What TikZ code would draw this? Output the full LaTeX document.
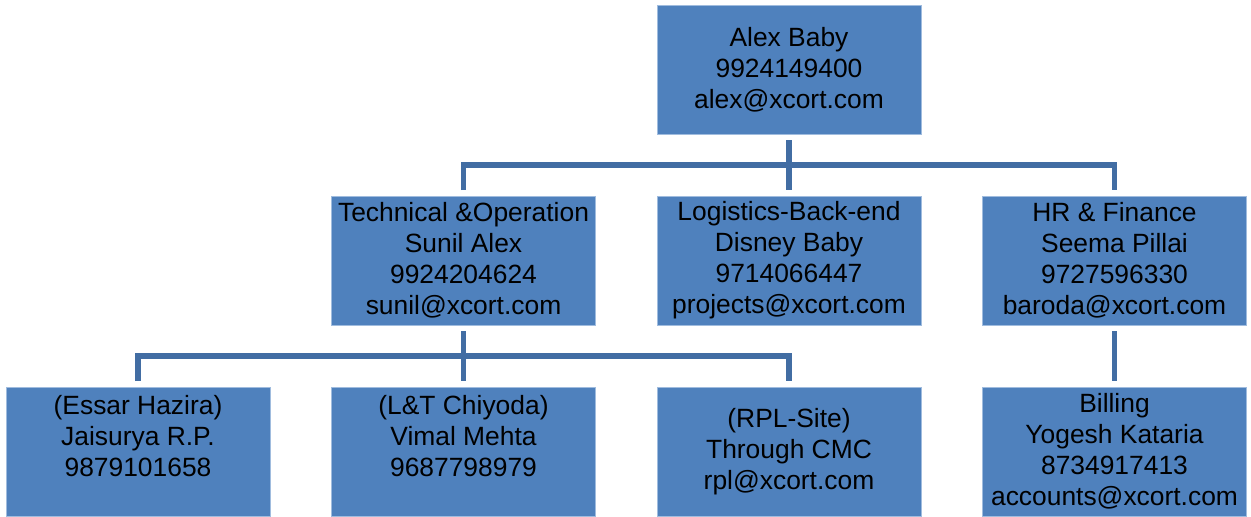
\documentclass[tikz,border=0pt]{standalone}
\usepackage{fontspec}
\setmainfont{Liberation Sans}
\usepackage{tikz}
\usetikzlibrary{calc,positioning}
\definecolor{unitfill}{RGB}{79,129,189}
\definecolor{unitedge}{RGB}{160,188,222}
\definecolor{linkcol}{RGB}{66,109,163}

\begin{document}
\begin{tikzpicture}[
    unit/.style={               % Boxes denoting one post of the chart.
      rectangle,
      draw=unitedge,
      line width=0.5pt,
      fill=unitfill,
      align=center,
      minimum width=132pt,
      minimum height=64.5pt,
      inner sep=1pt,
      outer sep=0pt,
      font=\fontsize{13.2}{15.5}\selectfont
    },
    link/.style={               % Connecting lines between posts.
      draw=linkcol,
      line width=2.6pt
    }]

    \useasboundingbox (0pt,0pt) rectangle (625.5pt,-258pt);

    % Head of the chart.
    \node[unit] (alex) at (394.5pt,-34.75pt)
      {Alex Baby\\9924149400\\alex@xcort.com};

    % Second level.
    \node[unit] (logistics) [below=31pt of alex]
      {Logistics-Back-end\\Disney Baby\\9714066447\\projects@xcort.com};
    \node[unit] (tech) [left=30.75pt of logistics]
      {Technical \&Operation\\Sunil Alex\\9924204624\\sunil@xcort.com};
    \node[unit] (hr) [right=30.75pt of logistics]
      {HR \& Finance\\Seema Pillai\\9727596330\\baroda@xcort.com};

    % Third level.
    \node[unit] (chiyoda) [below=31pt of tech]
      {(L\&T Chiyoda)\\Vimal Mehta\\9687798979\\~};
    \node[unit] (essar) [left=30.75pt of chiyoda]
      {(Essar Hazira)\\Jaisurya R.P.\\9879101658\\~};
    \node[unit] (rpl) [right=30.75pt of chiyoda]
      {(RPL-Site)\\Through CMC\\rpl@xcort.com};
    \node[unit] (billing) [below=31pt of hr]
      {Billing\\Yogesh Kataria\\8734917413\\accounts@xcort.com};

    % Bus lines between the levels.
    \coordinate (topbus) at ($(alex.south)!0.5!(logistics.north)$);
    \coordinate (lowbus) at ($(tech.south)!0.5!(chiyoda.north)$);

    \draw[link] ([yshift=-3pt] alex.south) to ([yshift=3pt] logistics.north);
    \draw[link] ([yshift=3pt] tech.north) |- (topbus)
      -| ([yshift=3pt] hr.north);
    \draw[link] ([yshift=-3pt] tech.south) to ([yshift=3pt] chiyoda.north);
    \draw[link] ([yshift=3pt] essar.north) |- (lowbus)
      -| ([yshift=3pt] rpl.north);
    \draw[link] ([yshift=-3pt] hr.south) to ([yshift=3pt] billing.north);
  \end{tikzpicture}
\end{document}
